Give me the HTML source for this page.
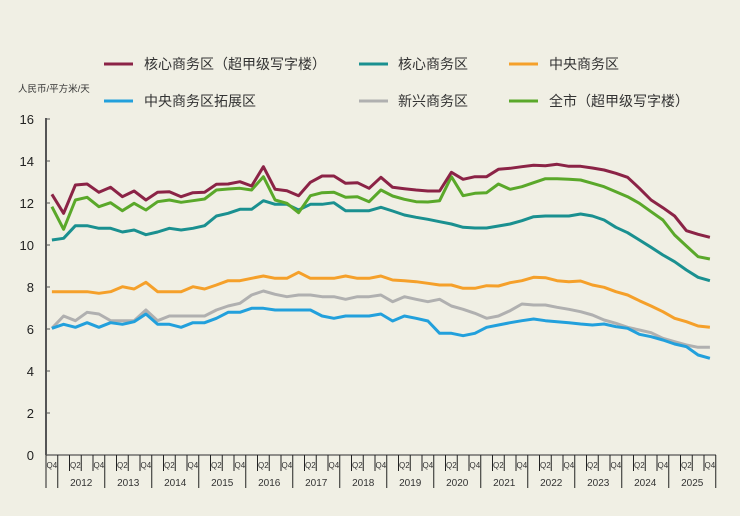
<!DOCTYPE html>
<html><head><meta charset="utf-8">
<style>
html,body{margin:0;padding:0;background:#f0efe4;}
svg{display:block;font-family:"Liberation Sans","Noto Sans CJK SC",sans-serif;}
</style></head>
<body>
<svg id="c" width="740" height="516" xmlns="http://www.w3.org/2000/svg">
<rect width="740" height="516" fill="#f0efe4"/>
<g font-size="14" fill="#333">
<line x1="104" y1="64" x2="133" y2="64" stroke="#8b2346" stroke-width="3"/><text x="144" y="69">核心商务区（超甲级写字楼）</text>
<line x1="359" y1="64" x2="388" y2="64" stroke="#1a9090" stroke-width="3"/><text x="398" y="69">核心商务区</text>
<line x1="509" y1="64" x2="538" y2="64" stroke="#f5a02a" stroke-width="3"/><text x="549" y="69">中央商务区</text>
<line x1="104" y1="101" x2="133" y2="101" stroke="#22a0dc" stroke-width="3"/><text x="144" y="106">中央商务区拓展区</text>
<line x1="359" y1="101" x2="388" y2="101" stroke="#b0b0b0" stroke-width="3"/><text x="398" y="106">新兴商务区</text>
<line x1="509" y1="101" x2="538" y2="101" stroke="#5aa82a" stroke-width="3"/><text x="549" y="106">全市（超甲级写字楼）</text>
</g>
<text x="18" y="92" font-size="9.5" fill="#333">人民币/平方米/天</text>
<g id="ax"></g>
<g id="ser"></g>
</svg>
<script>
var ns="http://www.w3.org/2000/svg";
function el(p,t,a,txt){var e=document.createElementNS(ns,t);for(var k in a)e.setAttribute(k,a[k]);if(txt!=null)e.textContent=txt;p.appendChild(e);return e;}
var ax=document.getElementById('ax'),ser=document.getElementById('ser');
var X0=46,W=11.75;
// y axis
el(ax,'line',{x1:X0,y1:118,x2:X0,y2:455,stroke:'#555','stroke-width':2});
for(var v=0;v<=16;v+=2){var y=455-21*v;
 el(ax,'text',{x:34,y:y+5,'font-size':13,fill:'#222','text-anchor':'end'},String(v));
 if(v>0)el(ax,'line',{x1:X0,y1:y,x2:X0+4,y2:y,stroke:'#555','stroke-width':1});}
el(ax,'line',{x1:X0,y1:455,x2:716,y2:455,stroke:'#555','stroke-width':1.2});
// quarter ticks
for(var i=0;i<=57;i++){var x=X0+W*i;var yr=((i-1)%4===0)||i===0||i===57;
 el(ax,'line',{x1:x,y1:455,x2:x,y2:yr?488:471,stroke:'#222','stroke-width':1});}
for(var i=0;i<57;i++){var q=(i+3)%4+1; if(q==2||q==4)
 el(ax,'text',{x:X0+W*i+W/2,y:468,'font-size':8,fill:'#333','text-anchor':'middle'},'Q'+q);}
for(var yy=2012;yy<=2025;yy++){var s=1+(yy-2012)*4;
 el(ax,'text',{x:X0+W*(s+2),y:486,'font-size':10,fill:'#333','text-anchor':'middle'},String(yy));}
var A={
'#b0b0b0':[565,528,542,517,522,542,542,542,510,542,528,528,528,528,510,498,490,465,453,463,470,465,465,470,470,478,470,470,465],
'#22a0dc':[565,553,562,548,562,548,553,545,522,553,553,562,548,548,535,517,517,505,505,510,510,510,510,528,535,528,528,528,522],
'#f5a02a':[455,455,455,455,460,455,440,447,427,455,455,455,440,447,435,422,422,415,408,415,415,397,415,415,415,408,415,415,408],
'#1a9090':[300,295,257,257,265,265,276,270,284,276,265,270,265,257,228,220,208,208,182,193,193,210,193,193,188,212,212,212,202],
'#5aa82a':[200,268,180,172,200,188,212,190,210,185,180,187,182,177,150,147,145,150,110,180,190,218,167,158,157,172,170,185,150],
'#8b2346':[163,220,135,132,157,142,170,153,180,157,155,170,158,157,133,132,125,138,80,148,152,167,127,108,108,130,128,145,112]};
var B={
'#b0b0b0':[485,470,478,485,478,498,508,520,535,528,512,492,495,495,502,508,515,525,540,550,562,570,578,595,605,615,622,622],
'#22a0dc':[543,528,535,543,580,580,587,580,562,555,548,542,537,542,545,548,552,555,552,560,565,583,590,600,612,620,645,655],
'#f5a02a':[420,422,425,430,435,435,445,445,437,438,428,422,412,413,422,425,423,435,442,455,465,482,498,515,535,545,558,562],
'#1a9090':[213,225,232,238,245,252,262,264,264,258,252,242,230,228,228,228,222,228,240,262,278,300,322,345,365,390,412,422],
'#5aa82a':[168,178,185,186,182,110,167,160,158,132,148,140,128,116,116,118,120,130,140,155,170,190,215,240,285,318,350,357],
'#8b2346':[142,146,150,153,153,97,118,110,110,88,85,80,76,77,73,79,79,84,90,100,112,145,180,203,228,272,283,292]};
for(var c in A){var d=A[c].concat(B[c]);var pts=[];
 for(var i=0;i<d.length;i++){pts.push((X0+W*(i+0.5)).toFixed(1)+','+(140+d[i]/3).toFixed(1));}
 el(ser,'polyline',{points:pts.join(' '),fill:'none',stroke:c,'stroke-width':3,'stroke-linejoin':'round'});}
</script>
</body></html>
